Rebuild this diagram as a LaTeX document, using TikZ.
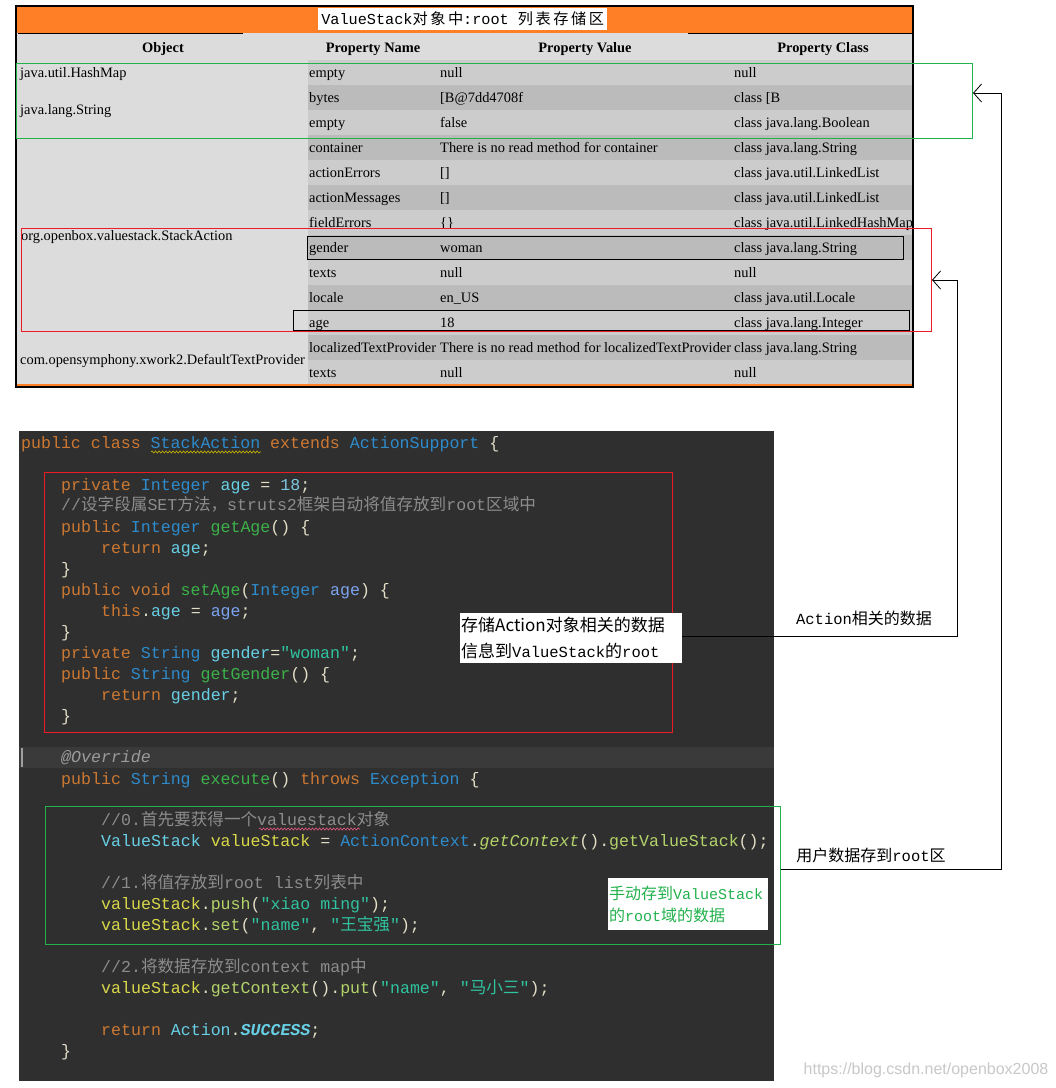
\documentclass[tikz,border=0pt]{standalone}
\usepackage{fontspec}
\setmainfont{Liberation Serif}
\newfontfamily\codefont{Liberation Mono}
\newfontfamily\cjk{Noto Sans CJK SC}
\newfontfamily\wmfont{Liberation Sans}
\usetikzlibrary{arrows.meta,decorations.pathmorphing}
\definecolor{orangeH}{HTML}{FF7F27}
\definecolor{tgray}{HTML}{DCDCDC}
\definecolor{rowA}{HTML}{CCCCCC}
\definecolor{rowB}{HTML}{BBBBBB}
\definecolor{greenL}{HTML}{22B14C}
\definecolor{redL}{HTML}{ED1C24}
\definecolor{codebg}{HTML}{2F2F2F}
\definecolor{codehl}{HTML}{3A3A3A}
\definecolor{kwc}{HTML}{CC7832}
\definecolor{tyc}{HTML}{2E8BCB}
\definecolor{fdc}{HTML}{68D0E6}
\definecolor{pac}{HTML}{7CA4F0}
\definecolor{mec}{HTML}{3CB24A}
\definecolor{pun}{HTML}{E3DEC6}
\definecolor{stc}{HTML}{2FC3A0}
\definecolor{cmc}{HTML}{8C8C8C}
\definecolor{anc}{HTML}{9B9B9B}
\definecolor{vsc}{HTML}{D9D84A}
\definecolor{clc}{HTML}{B4D46A}
\definecolor{numc}{HTML}{7EC8E3}
\definecolor{wmc}{HTML}{C8C8C8}
\newcommand\ckw[1]{\textcolor{kwc}{#1}}
\newcommand\cty[1]{\textcolor{tyc}{#1}}
\newcommand\cfd[1]{\textcolor{fdc}{#1}}
\newcommand\cpa[1]{\textcolor{pac}{#1}}
\newcommand\cme[1]{\textcolor{mec}{#1}}
\newcommand\cst[1]{\textcolor{stc}{#1}}
\newcommand\ccm[1]{\textcolor{cmc}{#1}}
\newcommand\cvs[1]{\textcolor{vsc}{#1}}
\newcommand\ccl[1]{\textcolor{clc}{#1}}
\newcommand\cnm[1]{\textcolor{numc}{#1}}
\newcommand\zh[1]{{\cjk #1}}
\newcommand\trow[5]{%
  \fill[#2] (308,{35+25*#1}) rectangle (913,{60+25*#1});
  \node[tcell] (pn#1) at (309,{52.5+25*#1}) {#3};
  \node[tcell] (pv#1) at (440,{52.5+25*#1}) {#4};
  \node[tcell] (pc#1) at (734,{52.5+25*#1}) {#5};
}
\tikzset{
  tcell/.style={anchor=base west, inner sep=0pt, font=\fontsize{14.4}{16}\selectfont},
  thead/.style={anchor=base, inner sep=0pt, font=\bfseries\fontsize{14.4}{16}\selectfont},
  codeln/.style={anchor=base west, inner sep=0pt, text=pun, font=\codefont\fontsize{16.6}{20}\selectfont},
  conn/.style={draw=black, line width=1pt, -{Straight Barb[length=8pt,width=18pt,line width=0.8pt]}},
  lbl/.style={inner sep=0pt, font=\fontsize{16}{20}\selectfont},
  markbox/.style={draw, inner sep=0pt, anchor=north west},
}
\begin{document}
\begin{tikzpicture}[x=1pt,y=-1pt]
\useasboundingbox (0,0) rectangle (1056,1088);
\fill[white] (0,0) rectangle (1056,1088);
% ---------- table ----------
\fill[orangeH] (16,6) rectangle (913,33);
\fill[tgray] (17,33) rectangle (913,60);
\fill[tgray] (17,60) rectangle (308,385);
\node[fill=white, minimum width=289pt, minimum height=22pt, inner sep=0pt, anchor=north west] (titlebox) at (318,8) {};
\node[inner sep=0pt, font=\codefont\fontsize{15.2}{18}\selectfont] (title) at (titlebox.center) {ValueStack\zh{对\,象\,中}:root \zh{列\,表\,存\,储\,区}};
\draw[line width=1pt] (18,33) -- (243,33);
\draw[line width=1pt] (688,33) -- (913,33);
\node[thead] (hobj) at (163,52) {Object};
\node[thead] (hpn) at (373,52) {Property Name};
\node[thead] (hpv) at (585,52) {Property Value};
\node[thead] (hpc) at (823,52) {Property Class};
\trow{1}{rowA}{empty}{null}{null}
\trow{2}{rowB}{bytes}{[B@7dd4708f}{class [B}
\trow{3}{rowA}{empty}{false}{class java.lang.Boolean}
\trow{4}{rowB}{container}{There is no read method for container}{class java.lang.String}
\trow{5}{rowA}{actionErrors}{[]}{class java.util.LinkedList}
\trow{6}{rowB}{actionMessages}{[]}{class java.util.LinkedList}
\trow{7}{rowA}{fieldErrors}{\{\}}{class java.util.LinkedHashMap}
\trow{8}{rowB}{gender}{woman}{class java.lang.String}
\trow{9}{rowA}{texts}{null}{null}
\trow{10}{rowB}{locale}{en\_US}{class java.util.Locale}
\trow{11}{rowA}{age}{18}{class java.lang.Integer}
\trow{12}{rowB}{localizedTextProvider}{There is no read method for localizedTextProvider}{class java.lang.String}
\trow{13}{rowA}{texts}{null}{null}
\node[tcell] (o1) at (20,77) {java.util.HashMap};
\node[tcell] (o2) at (20,114) {java.lang.String};
\node[tcell] (o3) at (21,240) {org.openbox.valuestack.StackAction};
\node[tcell] (o4) at (20,364) {com.opensymphony.xwork2.DefaultTextProvider};
\draw[orangeH, line width=1.5pt] (17,385) -- (912,385);
\draw[line width=1.5pt] (16,6) rectangle (913,387);
% marking boxes on the table
\node[markbox, draw=greenL, line width=1pt, minimum width=956pt, minimum height=75pt] (greenT) at (16,63) {};
\node[markbox, draw=redL, line width=1pt, minimum width=910pt, minimum height=103pt] (redT) at (21,228) {};
\node[markbox, draw=black, line width=1.2pt, minimum width=596pt, minimum height=23pt] (genderbox) at (307,236) {};
\node[markbox, draw=black, line width=1.2pt, minimum width=616pt, minimum height=20pt] (agebox) at (293,310) {};
% ---------- code ----------
\fill[codebg] (19,431) rectangle (774,1081);
\fill[codehl] (19,747) rectangle (774,768);
\fill[gray!75] (21,748) rectangle (23,767);
\node[codeln] (c1) at (21,448) {\ckw{public class} \cty{StackAction} \ckw{extends} \cty{ActionSupport} \{};
\node[codeln] (c2) at (61,490) {\ckw{private} \cty{Integer} \cfd{age} = \cnm{18};};
\node[codeln] (c3) at (61,510) {\ccm{//\zh{设字段属}SET\zh{方法，}struts2\zh{框架自动将值存放到}root\zh{区域中}}};
\node[codeln] (c4) at (61,532) {\ckw{public} \cty{Integer} \cme{getAge}() \{};
\node[codeln] (c5) at (101,553) {\ckw{return} \cfd{age};};
\node[codeln] (c6) at (61,574) {\}};
\node[codeln] (c7) at (61,595) {\ckw{public void} \cme{setAge}(\cty{Integer} \cpa{age}) \{};
\node[codeln] (c8) at (101,616) {\ckw{this}.\cfd{age} = \cpa{age};};
\node[codeln] (c9) at (61,637) {\}};
\node[codeln] (c10) at (61,658) {\ckw{private} \cty{String} \cfd{gender}=\cst{"woman"};};
\node[codeln] (c11) at (61,679) {\ckw{public} \cty{String} \cme{getGender}() \{};
\node[codeln] (c12) at (101,700) {\ckw{return} \cfd{gender};};
\node[codeln] (c13) at (61,721) {\}};
\node[codeln] (c14) at (61,762) {\textcolor{anc}{\itshape @Override}};
\node[codeln] (c15) at (61,784) {\ckw{public} \cty{String} \cme{execute}() \ckw{throws} \cty{Exception} \{};
\node[codeln] (c16) at (101,825) {\ccm{//0.\zh{首先要获得一个}valuestack\zh{对象}}};
\node[codeln] (c17) at (101,846) {\cfd{ValueStack} \cvs{valueStack} = \cty{ActionContext}.\ccl{\itshape getContext}().\ccl{getValueStack}();};
\node[codeln] (c18) at (101,888) {\ccm{//1.\zh{将值存放到}root list\zh{列表中}}};
\node[codeln] (c19) at (101,909) {\cvs{valueStack}.\ccl{push}(\cst{"xiao ming"});};
\node[codeln] (c20) at (101,930) {\cvs{valueStack}.\ccl{set}(\cst{"name"}, \cst{"\zh{王宝强}"});};
\node[codeln] (c21) at (101,972) {\ccm{//2.\zh{将数据存放到}context map\zh{中}}};
\node[codeln] (c22) at (101,993) {\cvs{valueStack}.\ccl{getContext}().\ccl{put}(\cst{"name"}, \cst{"\zh{马小三}"});};
\node[codeln] (c23) at (101,1035) {\ckw{return} \cfd{Action}.\textcolor{fdc}{\bfseries\itshape SUCCESS};};
\node[codeln] (c24) at (61,1056) {\}};
\draw[decorate, decoration={snake, amplitude=1.1pt, segment length=3.5pt}, draw={rgb,255:red,200;green,180;blue,0}, line width=0.6pt] (151,452) -- (261,452);
\draw[decorate, decoration={snake, amplitude=1.1pt, segment length=3.5pt}, draw={rgb,255:red,230;green,90;blue,130}, line width=0.6pt] (259,829) -- (360,829);
\node[markbox, draw=redL, line width=1pt, minimum width=628pt, minimum height=260pt] (redC) at (44,472) {};
\node[markbox, draw=greenL, line width=1pt, minimum width=735pt, minimum height=138pt] (greenC) at (45,806) {};
% labels
\node[fill=white, inner xsep=1pt, inner ysep=0pt, text width=220pt, minimum height=50pt, align=left, anchor=north west, font=\cjk\fontsize{17}{26}\selectfont] (lbl1) at (460,613) {存储Action对象相关的数据\\信息到{\codefont\fontsize{15.5}{26}\selectfont ValueStack}的{\codefont\fontsize{15.5}{26}\selectfont root}};
\node[fill=white, text=greenL, inner xsep=1pt, inner ysep=0pt, text width=158pt, minimum height=52pt, align=left, anchor=north west, font=\cjk\fontsize{16}{22}\selectfont] (lbl2) at (608,878) {手动存到{\codefont\fontsize{15}{22}\selectfont ValueStack}\\的{\codefont\fontsize{15}{22}\selectfont root}域的数据};
\node[lbl] (albl) at (864,618) {{\codefont\fontsize{15.5}{20}\selectfont Action}\zh{相关的数据}};
\node[lbl] (ulbl) at (871,855) {\zh{用户数据存到}{\codefont\fontsize{15.5}{20}\selectfont root}\zh{区}};
% connectors
\coordinate (u1) at (1001,869);
\coordinate (u2) at (1001,93);
\draw[conn] (greenC.east |- u1) -- (u1) -- (u2) -- (greenT.east |- u2);
\coordinate (w1) at (957,636);
\coordinate (w2) at (957,280);
\draw[conn] (lbl1.east |- w1) -- (w1) -- (w2) -- (redT.east |- w2);
% watermark
\node[inner sep=0pt, text=wmc, font=\wmfont\fontsize{16}{20}\selectfont] (wm) at (926,1070) {https://blog.csdn.net/openbox2008};
\end{tikzpicture}
\end{document}
